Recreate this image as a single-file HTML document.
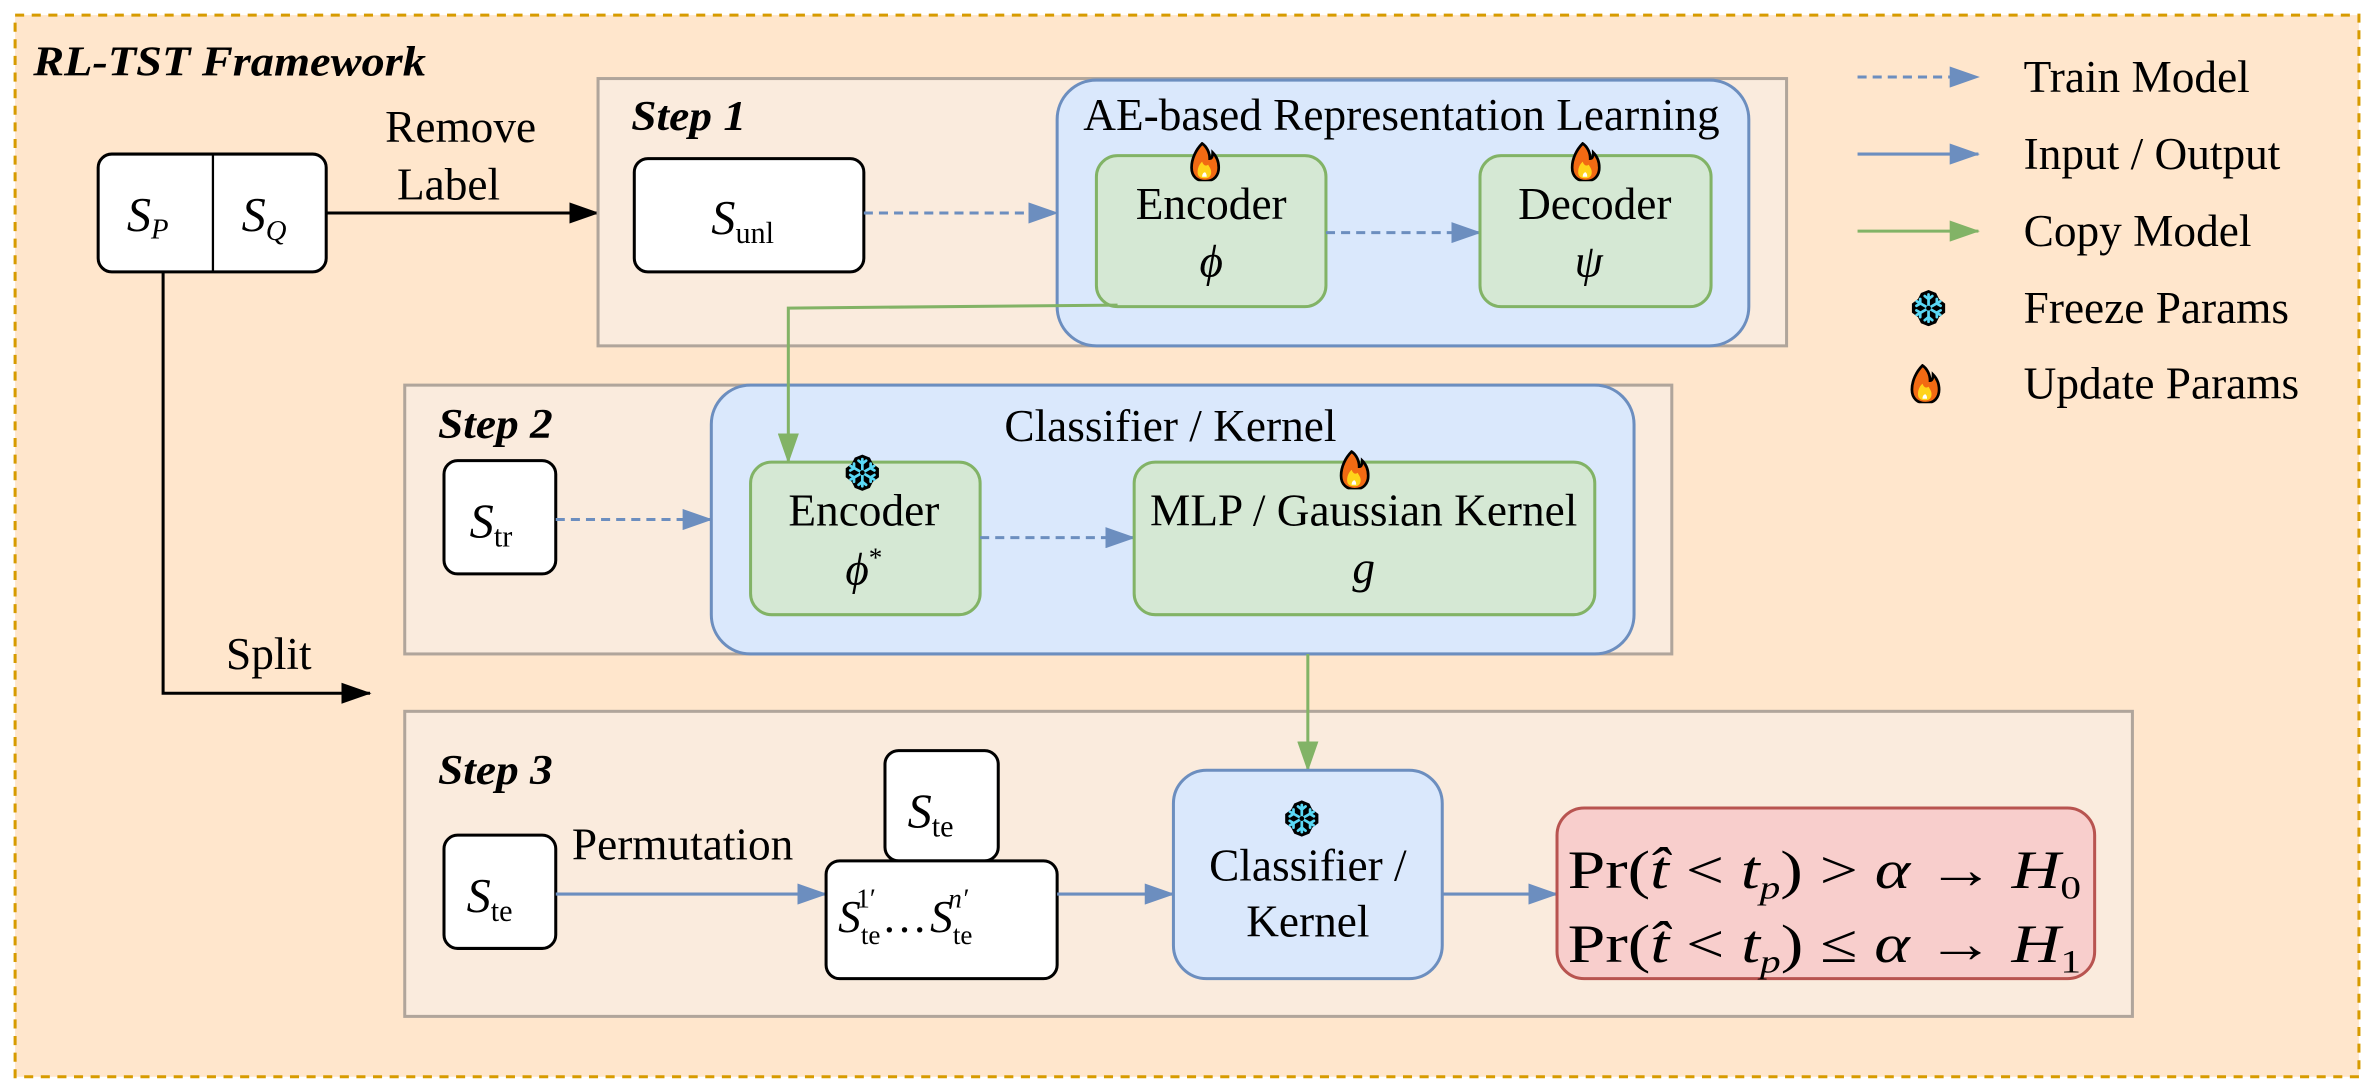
<!DOCTYPE html>
<html><head><meta charset="utf-8"><style>
html,body{margin:0;padding:0;background:#fff;}
svg{display:block;}
text{font-family:"Liberation Serif",serif;fill:#000;}
.m{font-style:italic;}
</style></head><body>
<svg width="2368" height="1088" viewBox="0 0 1568 720.4" xmlns="http://www.w3.org/2000/svg">
<defs>
<marker id="abl" viewBox="0 0 20 14" markerWidth="20" markerHeight="14" refX="19" refY="7" orient="auto" markerUnits="userSpaceOnUse"><path d="M0,0 L20,7 L0,14 Z" fill="#6c8ebf"/></marker>
<marker id="agr" viewBox="0 0 20 14" markerWidth="20" markerHeight="14" refX="19" refY="7" orient="auto" markerUnits="userSpaceOnUse"><path d="M0,0 L20,7 L0,14 Z" fill="#82b366"/></marker>
<marker id="abk" viewBox="0 0 20 14" markerWidth="20" markerHeight="14" refX="19" refY="7" orient="auto" markerUnits="userSpaceOnUse"><path d="M0,0 L20,7 L0,14 Z" fill="#000"/></marker>
<symbol id="snow" viewBox="-12 -12 24 24">
<path d="M0,-12 L5,-10 L7,-6 L11,-3 L11,3 L7,6 L5,10 L0,12 L-5,10 L-7,6 L-11,3 L-11,-3 L-7,-6 L-5,-10 Z" fill="#000"/>
<g stroke="#5ad8f5" stroke-width="1.8" stroke-linecap="round" fill="none">
<path d="M0,-9 V9 M-7.8,-4.5 L7.8,4.5 M-7.8,4.5 L7.8,-4.5"/>
<path d="M-2.5,-8 L0,-6 L2.5,-8 M-2.5,8 L0,6 L2.5,8"/>
<path d="M-8,-1.5 L-5.5,-3 L-5.5,-6 M8,1.5 L5.5,3 L5.5,6 M-8,1.5 L-5.5,3 L-5.5,6 M8,-1.5 L5.5,-3 L5.5,-6"/>
</g>
<circle r="1.6" fill="#000"/>
</symbol>
<symbol id="fire" viewBox="-10 -14 20 26">
<path d="M-2,-13 C-6,-9 -9,-3 -9,3 C-9,9 -5,12 0,12 C6,12 9,8 9,3 C9,-2 7,-5 5,-7 C5,-4 4,-3 3,-3 C3,-7 1,-11 -2,-13 Z" fill="#f26a13" stroke="#000" stroke-width="1.8"/>
<path d="M-5,6 C-5,2 -3,0 -2,-1 C-1,2 1,2 2,1 C3,3 4,4 4,6 C4,9 2,10 0,10 C-3,10 -5,9 -5,6 Z" fill="#ffd31a"/>
<path d="M-2,9 C-2,7 -1,6 0,6 C1,7 1,8 1,9 Z" fill="#fff"/>
</symbol>
</defs>
<rect x="0" y="0" width="1568" height="720.4" fill="#fff"/>
<rect x="10" y="10" width="1552" height="703" fill="#ffe6cc" stroke="#d79b00" stroke-width="2" stroke-dasharray="6,5"/>
<text x="22" y="50" font-size="28" font-weight="bold" font-style="italic" textLength="260" lengthAdjust="spacingAndGlyphs">RL-TST Framework</text>

<!-- legend -->
<line x1="1230" y1="51" x2="1310" y2="51" stroke="#6c8ebf" stroke-width="2" stroke-dasharray="6,4" marker-end="url(#abl)"/>
<line x1="1230" y1="102" x2="1310" y2="102" stroke="#6c8ebf" stroke-width="2" marker-end="url(#abl)"/>
<line x1="1230" y1="153" x2="1310" y2="153" stroke="#82b366" stroke-width="2" marker-end="url(#agr)"/>
<use href="#snow" x="1265" y="192" width="24" height="24"/>
<use href="#fire" x="1265" y="241" width="20" height="26"/>
<text x="1340" y="61" font-size="30">Train Model</text>
<text x="1340" y="112" font-size="30">Input / Output</text>
<text x="1340" y="163" font-size="30">Copy Model</text>
<text x="1340" y="214" font-size="30">Freeze Params</text>
<text x="1340" y="264" font-size="30">Update Params</text>

<!-- SP SQ -->
<rect x="65" y="102" width="151" height="78" rx="9" fill="#fff" stroke="#000" stroke-width="2"/>
<line x1="141" y1="102" x2="141" y2="180" stroke="#000" stroke-width="1.5"/>
<text x="84" y="153" font-size="32" class="m">S<tspan font-size="19" dy="5">P</tspan></text>
<text x="160" y="153" font-size="32" class="m">S<tspan font-size="19" dy="6">Q</tspan></text>
<line x1="216" y1="141" x2="396" y2="141" stroke="#000" stroke-width="2" marker-end="url(#abk)"/>
<text x="305" y="94" font-size="30" text-anchor="middle">Remove</text>
<text x="297" y="132" font-size="30" text-anchor="middle">Label</text>

<!-- split -->
<polyline points="108,180 108,459 245,459" fill="none" stroke="#000" stroke-width="2" marker-end="url(#abk)"/>
<text x="178" y="443" font-size="30" text-anchor="middle">Split</text>

<!-- Step 1 -->
<rect x="396" y="52" width="787" height="177" fill="#faebdd" stroke="#b0a59b" stroke-width="2"/>
<text x="418" y="86" font-size="28" font-weight="bold" font-style="italic" textLength="76" lengthAdjust="spacingAndGlyphs">Step 1</text>
<rect x="420" y="105" width="152" height="75" rx="9" fill="#fff" stroke="#000" stroke-width="2"/>
<text x="471" y="155" font-size="32" class="m">S<tspan font-size="20" dy="6" font-style="normal">unl</tspan></text>
<line x1="572" y1="141" x2="700" y2="141" stroke="#6c8ebf" stroke-width="2" stroke-dasharray="6,4" marker-end="url(#abl)"/>
<rect x="700" y="53" width="458" height="176" rx="26" fill="#dae8fc" stroke="#6c8ebf" stroke-width="2"/>
<text x="928" y="86" font-size="30" text-anchor="middle">AE-based Representation Learning</text>
<rect x="726" y="103" width="152" height="100" rx="14" fill="#d5e8d4" stroke="#82b366" stroke-width="2"/>
<text x="802" y="145" font-size="30" text-anchor="middle">Encoder</text>
<text x="802" y="183" font-size="30" text-anchor="middle" class="m">ϕ</text>
<use href="#fire" x="788" y="94" width="20" height="26"/>
<line x1="878" y1="154" x2="980" y2="154" stroke="#6c8ebf" stroke-width="2" stroke-dasharray="6,4" marker-end="url(#abl)"/>
<rect x="980" y="103" width="153" height="100" rx="14" fill="#d5e8d4" stroke="#82b366" stroke-width="2"/>
<text x="1056" y="145" font-size="30" text-anchor="middle">Decoder</text>
<text x="1052" y="183" font-size="30" text-anchor="middle" class="m">ψ</text>
<use href="#fire" x="1040" y="94" width="20" height="26"/>

<!-- Step 2 -->
<rect x="268" y="255" width="839" height="178" fill="#faebdd" stroke="#b0a59b" stroke-width="2"/>
<text x="290" y="290" font-size="28" font-weight="bold" font-style="italic" textLength="76" lengthAdjust="spacingAndGlyphs">Step 2</text>
<rect x="294" y="305" width="74" height="75" rx="9" fill="#fff" stroke="#000" stroke-width="2"/>
<text x="311" y="356" font-size="32" class="m">S<tspan font-size="20" dy="6" font-style="normal">tr</tspan></text>
<rect x="471" y="255" width="611" height="178" rx="26" fill="#dae8fc" stroke="#6c8ebf" stroke-width="2"/>
<line x1="368" y1="344" x2="471" y2="344" stroke="#6c8ebf" stroke-width="2" stroke-dasharray="6,4" marker-end="url(#abl)"/>
<text x="775" y="292" font-size="30" text-anchor="middle">Classifier / Kernel</text>
<polyline points="740,202 522,204 522,306" fill="none" stroke="#82b366" stroke-width="2" marker-end="url(#agr)"/>
<rect x="497" y="306" width="152" height="101" rx="14" fill="#d5e8d4" stroke="#82b366" stroke-width="2"/>
<text x="572" y="348" font-size="30" text-anchor="middle">Encoder</text>
<text x="572" y="387" font-size="30" text-anchor="middle" class="m">ϕ<tspan font-size="18" dy="-12" font-style="normal">*</tspan></text>
<use href="#snow" x="559" y="299" width="24" height="28"/>
<line x1="649" y1="356" x2="751" y2="356" stroke="#6c8ebf" stroke-width="2" stroke-dasharray="6,4" marker-end="url(#abl)"/>
<rect x="751" y="306" width="305" height="101" rx="14" fill="#d5e8d4" stroke="#82b366" stroke-width="2"/>
<text x="903" y="348" font-size="30" text-anchor="middle">MLP / Gaussian Kernel</text>
<text x="903" y="386" font-size="30" text-anchor="middle" class="m">g</text>
<use href="#fire" x="887" y="298" width="20" height="26"/>

<!-- Step 3 -->
<rect x="268" y="471" width="1144" height="202" fill="#faebdd" stroke="#b0a59b" stroke-width="2"/>
<line x1="866" y1="433" x2="866" y2="510" stroke="#82b366" stroke-width="2" marker-end="url(#agr)"/>
<text x="290" y="519" font-size="28" font-weight="bold" font-style="italic" textLength="76" lengthAdjust="spacingAndGlyphs">Step 3</text>
<rect x="294" y="553" width="74" height="75" rx="9" fill="#fff" stroke="#000" stroke-width="2"/>
<text x="309" y="604" font-size="32" class="m">S<tspan font-size="20" dy="6" font-style="normal">te</tspan></text>
<text x="452" y="569" font-size="30" text-anchor="middle">Permutation</text>
<line x1="368" y1="592" x2="547" y2="592" stroke="#6c8ebf" stroke-width="2" marker-end="url(#abl)"/>
<rect x="586" y="497" width="75" height="73" rx="9" fill="#fff" stroke="#000" stroke-width="2"/>
<text x="601" y="548" font-size="32" class="m">S<tspan font-size="20" dy="6" font-style="normal">te</tspan></text>
<rect x="547" y="570" width="153" height="78" rx="9" fill="#fff" stroke="#000" stroke-width="2"/>
<text x="555" y="617" font-size="30" class="m">S<tspan font-size="18" dy="8" font-style="normal">te</tspan><tspan font-size="18" dx="-16" dy="-24" font-style="normal">1′</tspan><tspan font-size="30" dy="16" dx="4" font-style="normal">…</tspan><tspan dx="2">S</tspan><tspan font-size="18" dy="8" font-style="normal">te</tspan><tspan font-size="18" dx="-16" dy="-24">n′</tspan></text>
<line x1="700" y1="592" x2="777" y2="592" stroke="#6c8ebf" stroke-width="2" marker-end="url(#abl)"/>
<rect x="777" y="510" width="178" height="138" rx="22" fill="#dae8fc" stroke="#6c8ebf" stroke-width="2"/>
<use href="#snow" x="850" y="527" width="24" height="30"/>
<text x="866" y="583" font-size="30" text-anchor="middle">Classifier /</text>
<text x="866" y="620" font-size="30" text-anchor="middle">Kernel</text>
<line x1="955" y1="592" x2="1031" y2="592" stroke="#6c8ebf" stroke-width="2" marker-end="url(#abl)"/>
<rect x="1031" y="535" width="356" height="113" rx="18" fill="#f8cecc" stroke="#b85450" stroke-width="2"/>
<text x="1038" y="588" font-size="36" textLength="340" lengthAdjust="spacingAndGlyphs">Pr(<tspan class="m">t̂</tspan> &lt; <tspan class="m">t</tspan><tspan font-size="22" dy="7" class="m">p</tspan><tspan dy="-7">) &gt; </tspan><tspan class="m">α</tspan> → <tspan class="m">H</tspan><tspan font-size="22" dy="7">0</tspan></text>
<text x="1038" y="637" font-size="36" textLength="340" lengthAdjust="spacingAndGlyphs">Pr(<tspan class="m">t̂</tspan> &lt; <tspan class="m">t</tspan><tspan font-size="22" dy="7" class="m">p</tspan><tspan dy="-7">) ≤ </tspan><tspan class="m">α</tspan> → <tspan class="m">H</tspan><tspan font-size="22" dy="7">1</tspan></text>
</svg>
</body></html>
